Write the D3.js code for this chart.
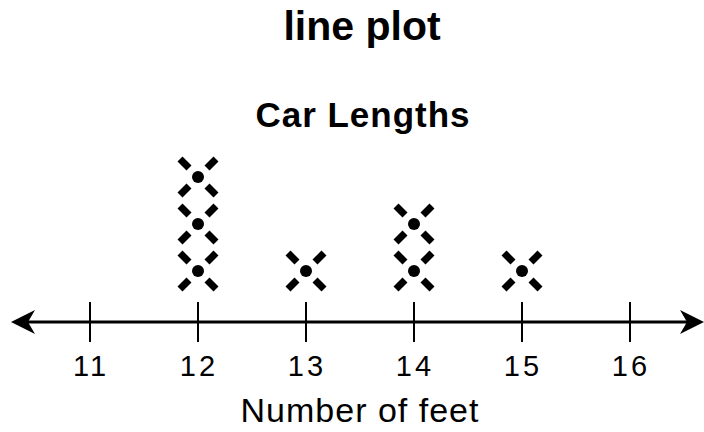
<!DOCTYPE html>
<html>
<head>
<meta charset="utf-8">
<script src="https://cdn.jsdelivr.net/npm/d3@7"></script>
<style>
  body { margin: 0; background: #fff; }
  text { fill: #000; }
</style>
</head>
<body>
<div id="chart"></div>
<script>
'use strict';

// car lengths, one entry per X mark
const lengths = [12, 12, 12, 13, 14, 14, 15];
const ticks = [11, 12, 13, 14, 15, 16];
const title = "line plot";
const subtitle = "Car Lengths";
const xLabel = "Number of feet";

const msm = {
  width: 704,
  height: 432,
  axisY: 322,
  markStep: 47
};

const svg = d3.select('#chart')
  .append('svg')
  .attr('width', msm.width)
  .attr('height', msm.height);

// tick 11 sits at 90px, 16 at 630px
const xScale = d3.scaleLinear()
  .domain([11, 16])
  .range([90, 630]);

// stack level -> vertical position
const yScale = d3.scaleLinear()
  .domain([0, 1])
  .range([msm.axisY - 51, msm.axisY - 51 - msm.markStep]);

// titles
svg.append('text')
  .attr('x', 362).attr('y', 40)
  .attr('text-anchor', 'middle')
  .style('font-family', 'Liberation Sans, Arial, sans-serif')
  .style('font-weight', 'bold')
  .style('font-size', '41px')
  .text(title);

svg.append('text')
  .attr('x', 363).attr('y', 127)
  .attr('text-anchor', 'middle')
  .style('font-family', 'Liberation Sans, Arial, sans-serif')
  .style('font-weight', 'bold')
  .style('font-size', '35px')
  .style('letter-spacing', '1px')
  .text(subtitle);

// number line
svg.append('line')
  .attr('x1', 28).attr('x2', 688)
  .attr('y1', msm.axisY).attr('y2', msm.axisY)
  .attr('stroke', '#000')
  .attr('stroke-width', 3);

function arrow(tipX, dir) {
  const p = d3.path();
  p.moveTo(tipX, msm.axisY);
  p.lineTo(tipX + dir * 24, msm.axisY - 12);
  p.lineTo(tipX + dir * 17, msm.axisY);
  p.lineTo(tipX + dir * 24, msm.axisY + 12);
  p.closePath();
  svg.append('path').attr('d', p.toString()).attr('fill', '#000');
}
arrow(11, 1);
arrow(704, -1);

svg.selectAll('.tick')
  .data(ticks)
  .enter()
  .append('line')
    .attr('class', 'tick')
    .attr('x1', d => xScale(d)).attr('x2', d => xScale(d))
    .attr('y1', msm.axisY - 20).attr('y2', msm.axisY + 20)
    .attr('stroke', '#000')
    .attr('stroke-width', 2);

svg.selectAll('.tickLabel')
  .data(ticks)
  .enter()
  .append('text')
    .attr('class', 'tickLabel')
    .attr('x', d => xScale(d) + 1)
    .attr('y', 376)
    .attr('text-anchor', 'middle')
    .style('font-family', 'Liberation Sans, Arial, sans-serif')
    .style('font-size', '29px')
    .style('letter-spacing', '3px')
    .text(d => d);

svg.append('text')
  .attr('x', 360).attr('y', 422)
  .attr('text-anchor', 'middle')
  .style('font-family', 'Liberation Sans, Arial, sans-serif')
  .style('font-size', '34px')
  .style('letter-spacing', '1px')
  .text(xLabel);

// stack the marks per value
const counts = {};
const marks = lengths.map(v => {
  counts[v] = (counts[v] || 0);
  const level = counts[v]++;
  return { value: v, level: level };
});

const xMark = svg.selectAll('.mark')
  .data(marks)
  .enter()
  .append('g')
    .attr('class', 'mark')
    .attr('transform', d => 'translate(' + xScale(d.value) + ',' + yScale(d.level) + ')');

[[1, 1], [1, -1], [-1, 1], [-1, -1]].forEach(([sx, sy]) => {
  xMark.append('line')
    .attr('x1', sx * 9).attr('y1', sy * 9)
    .attr('x2', sx * 18).attr('y2', sy * 18)
    .attr('stroke', '#000')
    .attr('stroke-width', 7);
});
xMark.append('circle')
  .attr('r', 6)
  .attr('fill', '#000');
</script>
</body>
</html>
